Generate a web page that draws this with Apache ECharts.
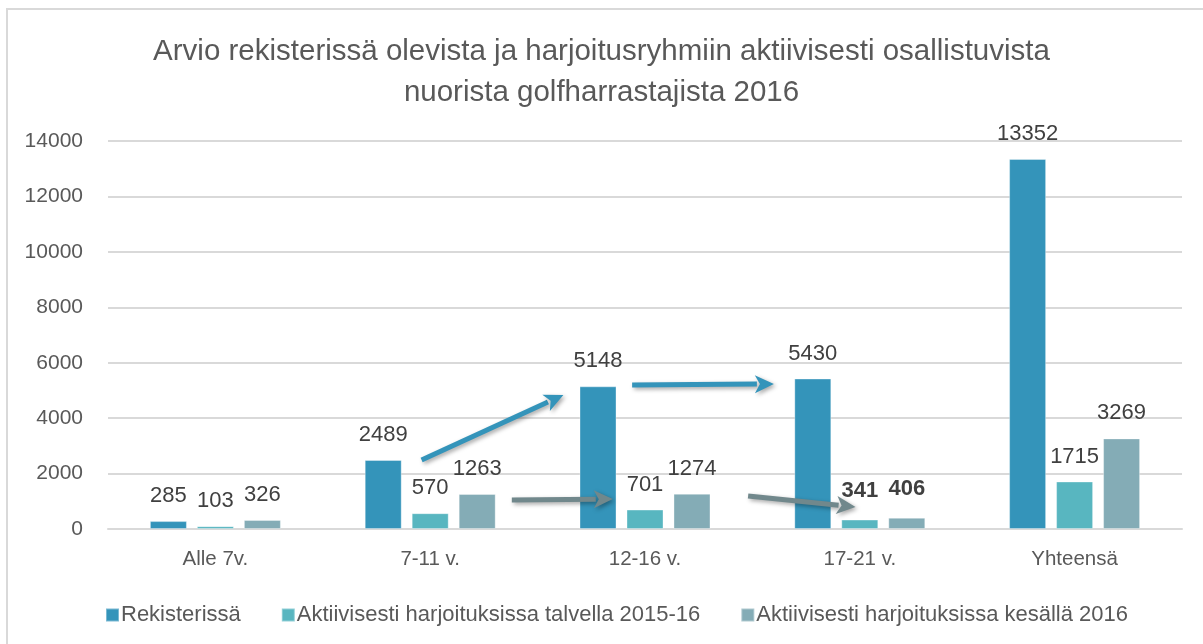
<!DOCTYPE html>
<html>
<head>
<meta charset="utf-8">
<script src="https://cdn.jsdelivr.net/npm/echarts@6/dist/echarts.min.js"></script>
<style>
  html, body { margin: 0; padding: 0; background: #fff; }
  #chart { width: 1203px; height: 644px; }
</style>
</head>
<body>
<div id="chart"></div>
<script>
// Data
const categories = ['Alle 7v.', '7-11 v.', '12-16 v.', '17-21 v.', 'Yhteensä'];
const seriesNames = [
  'Rekisterissä',
  'Aktiivisesti harjoituksissa talvella 2015-16',
  'Aktiivisesti harjoituksissa kesällä 2016'
];
const registered = [285, 2489, 5148, 5430, 13352];
const activeWinter = [103, 570, 701, 341, 1715];
const activeSummer = [326, 1263, 1274, 406, 3269];
const yTicks = [0, 2000, 4000, 6000, 8000, 10000, 12000, 14000];

// Annotation arrows, in [category position, value] terms
const arrows = [
  { from: [0.96, 2490], to: [1.62, 4835], color: '#3494BA' },
  { from: [1.94, 5196], to: [2.60, 5232], color: '#3494BA' },
  { from: [1.38, 1046], to: [1.85, 1082], color: '#71888C' },
  { from: [2.48, 1191], to: [2.98, 794], color: '#71888C' }
];

const colors = ['#3494BA', '#58B6C0', '#84ACB6'];
const textFont = '"Liberation Sans", Arial, sans-serif';
const textColor = '#595959';
const labelColor = '#404040';

// Builds one bar series
function buildSeries(name, data, color, boldIndexes) {
  return {
    name: name,
    type: 'bar',
    barWidth: 37,
    barGap: '27%',
    itemStyle: { color: color, borderColor: 'rgba(255,255,255,0.35)', borderWidth: 1 },
    label: {
      show: true,
      position: 'top',
      distance: 14,
      fontFamily: textFont,
      fontSize: 22,
      color: labelColor
    },
    data: data.map((v, i) => {
      if (boldIndexes && boldIndexes.indexOf(i) >= 0) {
        return { value: v, label: { fontWeight: 'bold', distance: 18 } };
      }
      return v;
    })
  };
}

const chart = echarts.init(document.getElementById('chart'));

chart.setOption({
  animation: false,
  backgroundColor: '#fff',
  title: {
    text: 'Arvio rekisterissä olevista ja harjoitusryhmiin aktiivisesti osallistuvista\nnuorista golfharrastajista 2016',
    left: 'center',
    top: 26,
    textStyle: {
      fontFamily: textFont,
      fontSize: 29.5,
      fontWeight: 'normal',
      color: textColor,
      lineHeight: 41
    }
  },
  legend: {
    data: seriesNames,
    left: 100,
    top: 599,
    icon: 'rect',
    itemWidth: 13,
    itemHeight: 13,
    itemGap: 40,
    textStyle: { fontFamily: textFont, fontSize: 22, color: textColor, padding: [0, 0, 0, -3] }
  },
  grid: { left: 108, right: 21, top: 141, bottom: 115, containLabel: false },
  xAxis: {
    type: 'category',
    data: categories,
    axisLine: { lineStyle: { color: '#d9d9d9', width: 2 } },
    axisTick: { show: false },
    axisLabel: { fontFamily: textFont, fontSize: 20.5, color: textColor, margin: 20 }
  },
  yAxis: {
    type: 'value',
    min: yTicks[0],
    max: yTicks[yTicks.length - 1],
    interval: 2000,
    axisLine: { show: false },
    axisTick: { show: false },
    splitLine: { lineStyle: { color: '#d9d9d9', width: 2 } },
    axisLabel: {
      fontFamily: textFont, fontSize: 21, color: textColor, margin: 25,
      formatter: v => String(v)
    }
  },
  series: [
    buildSeries(seriesNames[0], registered, colors[0]),
    buildSeries(seriesNames[1], activeWinter, colors[1], [3]),
    buildSeries(seriesNames[2], activeSummer, colors[2], [3])
  ]
});

// Converts [category position, value] into pixels
function toPixel(pt) {
  const i = Math.floor(pt[0]);
  const a = chart.convertToPixel({ gridIndex: 0 }, [i, pt[1]]);
  const b = chart.convertToPixel({ gridIndex: 0 }, [i + 1 < categories.length ? i + 1 : i - 1, pt[1]]);
  const step = i + 1 < categories.length ? b[0] - a[0] : a[0] - b[0];
  return [a[0] + (pt[0] - i) * step, a[1]];
}

// Builds one arrow (shaft + head) as graphic elements
function buildArrow(arrow) {
  const p0 = toPixel(arrow.from);
  const p1 = toPixel(arrow.to);
  const dx = p1[0] - p0[0], dy = p1[1] - p0[1];
  const len = Math.sqrt(dx * dx + dy * dy);
  const ux = dx / len, uy = dy / len;
  const headLen = 19, headHalf = 9;
  const base = [p1[0] - ux * headLen, p1[1] - uy * headLen];
  const shadow = { shadowBlur: 4, shadowColor: 'rgba(0,0,0,0.35)', shadowOffsetX: 2, shadowOffsetY: 2 };
  return {
    type: 'group',
    z: 100,
    children: [
      {
        type: 'line',
        z: 100,
        shape: { x1: p0[0], y1: p0[1], x2: base[0] + ux * 2, y2: base[1] + uy * 2 },
        style: Object.assign({ stroke: arrow.color, lineWidth: 5 }, shadow)
      },
      {
        type: 'polygon',
        z: 100,
        shape: {
          points: [
            p1,
            [base[0] - uy * headHalf, base[1] + ux * headHalf],
            [base[0] + ux * 5, base[1] + uy * 5],
            [base[0] + uy * headHalf, base[1] - ux * headHalf]
          ]
        },
        style: Object.assign({ fill: arrow.color }, shadow)
      }
    ]
  };
}

chart.setOption({
  graphic: [
    {
      type: 'rect',
      silent: true,
      shape: { x: 7, y: 9, width: 1220, height: 660 },
      style: { fill: 'none', stroke: '#d9d9d9', lineWidth: 2 }
    }
  ].concat(arrows.map(buildArrow))
});
</script>
</body>
</html>
